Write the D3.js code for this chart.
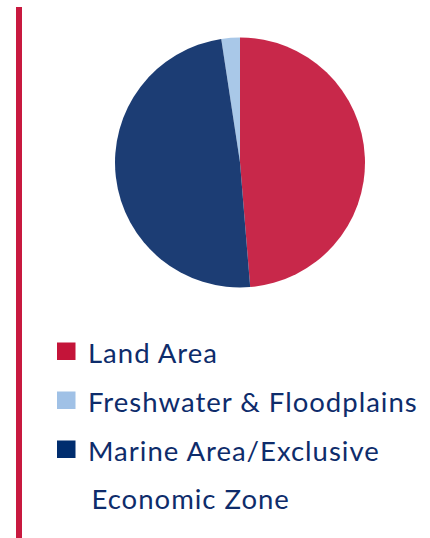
<!DOCTYPE html>
<html>
<head>
<meta charset="utf-8">
<script src="https://cdn.jsdelivr.net/npm/d3@7"></script>
<style>
  html, body { margin: 0; padding: 0; background: #fff; }
  svg { display: block; }
</style>
</head>
<body>
<svg id="chart" width="430" height="538"></svg>
<script>
const categories = ['Land Area', 'Freshwater & Floodplains', 'Marine Area/Exclusive Economic Zone'];
const shares = [48.7, 2.4, 48.9];
const sliceColors = ['#c8284a', '#a9c8e8', '#1c3d74'];
const swatchColors = ['#c41439', '#a0c1e6', '#002d6e'];
const legendLines = [['Land Area'], ['Freshwater & Floodplains'], ['Marine Area/Exclusive', 'Economic Zone']];

const svg = d3.select('#chart');

// accent bar on the left
svg.append('rect')
  .attr('x', 16).attr('y', 7)
  .attr('width', 6).attr('height', 531)
  .attr('fill', '#c8193f');

const data = categories.map((c, i) => ({ label: c, value: shares[i] }));
const total = d3.sum(shares);

// slices run counter-clockwise, land ending at 12 o'clock
const start = (shares[0] / total) * 2 * Math.PI;
const pie = d3.pie().sort(null).value((d) => d.value)
  .startAngle(start).endAngle(start - 2 * Math.PI);
const arc = d3.arc().innerRadius(0).outerRadius(125);

svg.append('g')
  .attr('transform', 'translate(240,162.5)')
  .selectAll('path')
  .data(pie(data))
  .join('path')
  .attr('d', arc)
  .attr('fill', (d, i) => sliceColors[i]);

const legend = svg.append('g');
const rowY = d3.scalePoint().domain(categories).range([342.5, 440.5]);

categories.forEach((c, i) => {
  const y = rowY(c);
  legend.append('rect')
    .attr('x', 57).attr('y', y)
    .attr('width', 18.5).attr('height', 17.5)
    .attr('fill', swatchColors[i]);
  legendLines[i].forEach((line, j) => {
    legend.append('text')
      .attr('x', j === 0 ? 88 : 91.5)
      .attr('y', y + 20 + j * 48)
      .attr('font-family', 'Lato, sans-serif')
      .attr('font-size', 27.5)
      .attr('letter-spacing', 1.0)
      .attr('fill', '#0e2c6b')
      .text(line);
  });
});
</script>
</body>
</html>
